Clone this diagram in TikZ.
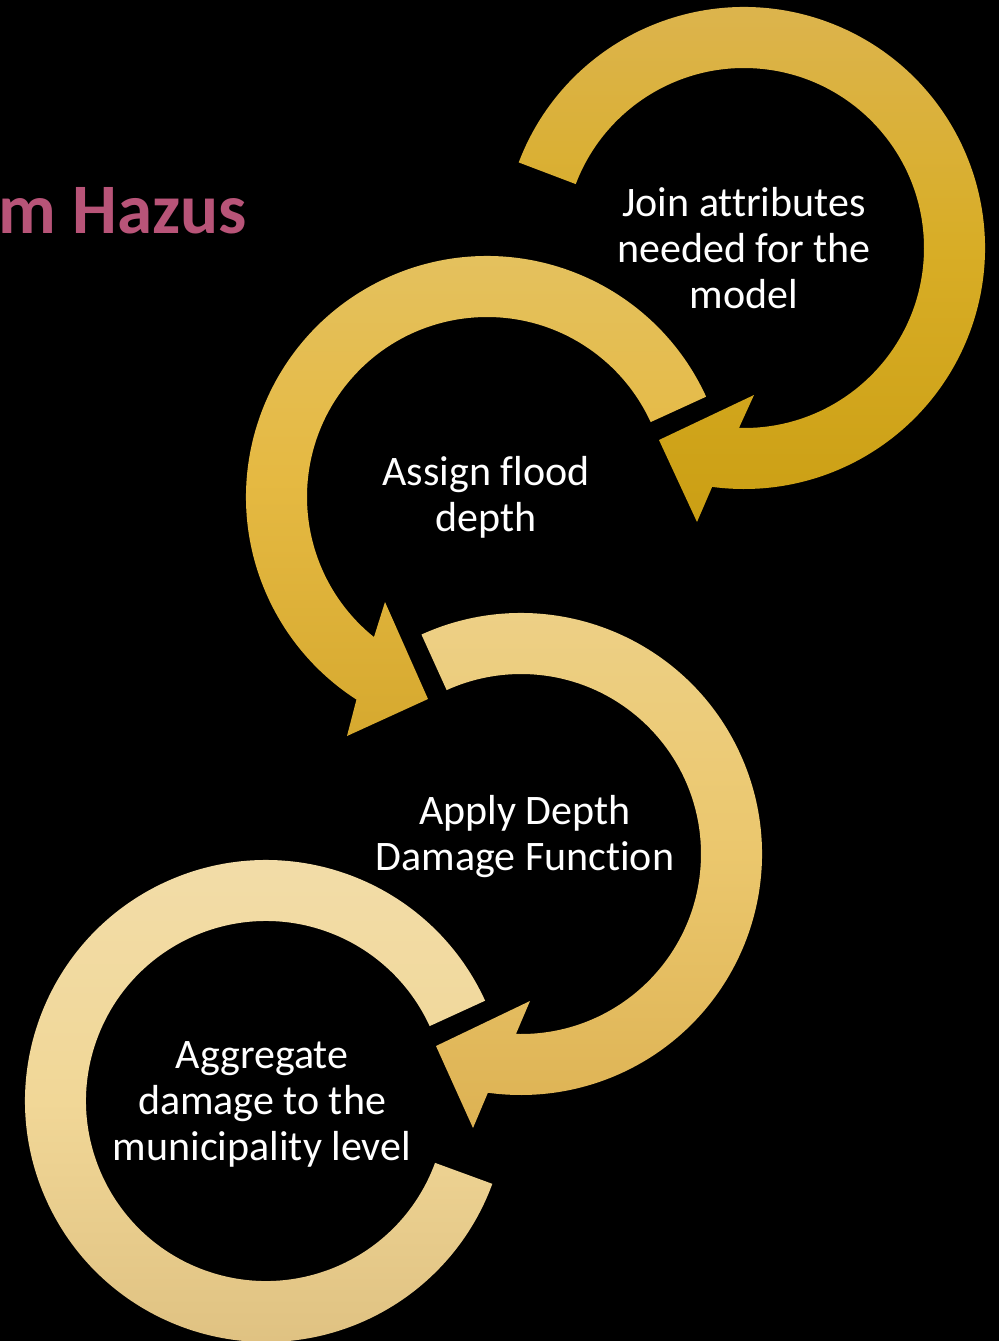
\documentclass[tikz,border=0pt]{standalone}
\usepackage{fontspec}
\setmainfont{Carlito}[Ligatures=CommonOff]
\begin{document}
\begin{tikzpicture}[x=1pt,y=1pt]
\definecolor{a1top}{RGB}{221,181,82}
\definecolor{a1mid}{RGB}{216,173,38}
\definecolor{a1bot}{RGB}{203,159,20}
\definecolor{a2top}{RGB}{228,194,98}
\definecolor{a2mid}{RGB}{229,185,66}
\definecolor{a2bot}{RGB}{214,169,47}
\definecolor{a3top}{RGB}{237,209,137}
\definecolor{a3mid}{RGB}{235,199,109}
\definecolor{a3bot}{RGB}{221,178,83}
\definecolor{a4top}{RGB}{242,221,170}
\definecolor{a4mid}{RGB}{241,215,151}
\definecolor{a4bot}{RGB}{221,191,127}
\definecolor{hazus}{RGB}{184,84,120}
\tikzset{steptext/.style={text=white,align=center,font=\fontsize{42}{46}\selectfont}}
\fill[black] (0,0) rectangle (999,-1341);
\useasboundingbox (0,0) rectangle (999,-1341);
\coordinate (c1) at (744,-248);
\coordinate (c2) at (487,-497);
\coordinate (c3) at (521,-854);
\coordinate (c4) at (266,-1101);
% first arrow, clockwise
\shade[top color=a1top,bottom color=a1bot,middle color=a1mid]
  ([shift={(159.2:241)}]c1) arc[start angle=159.2,end angle=-97.6,radius=241]
  -- (697,-522) -- (659,-440) -- (754,-395)
  -- ([shift={(-91.6:180)}]c1) arc[start angle=-91.6,end angle=159.2,radius=180] -- cycle;
% second arrow, counter-clockwise
\shade[top color=a2top,bottom color=a2bot,middle color=a2mid]
  ([shift={(24.6:241)}]c2) arc[start angle=24.6,end angle=237.2,radius=241]
  -- (347,-736) -- (428,-699) -- (385,-602)
  -- ([shift={(231.1:180)}]c2) arc[start angle=231.1,end angle=24.6,radius=180] -- cycle;
% third arrow, clockwise
\shade[top color=a3top,bottom color=a3bot,middle color=a3mid]
  ([shift={(114.4:241)}]c3) arc[start angle=114.4,end angle=-97.9,radius=241]
  -- (473,-1128) -- (436,-1046) -- (530,-1001)
  -- ([shift={(-91.6:180)}]c3) arc[start angle=-91.6,end angle=114.4,radius=180] -- cycle;
% last ring, no head
\shade[top color=a4top,bottom color=a4bot,middle color=a4mid]
  ([shift={(24.6:241)}]c4) arc[start angle=24.6,end angle=339.9,radius=241]
  -- ([shift={(339.9:180)}]c4) arc[start angle=339.9,end angle=24.6,radius=180] -- cycle;
\node[steptext] (join) at (744,-248) {Join attributes\\needed for the\\model};
\node[steptext] (assign) at (486,-497) {Assign flood\\depth};
\node[steptext] (apply) at (525,-837) {Apply Depth\\Damage Function};
\node[steptext] (aggregate) at (262,-1104) {Aggregate\\damage to the\\municipality level};
\node[anchor=base east,inner sep=0pt,text=hazus,font=\fontsize{71}{85}\selectfont\bfseries] (title) at (247,-233) {m Hazus};
\end{tikzpicture}
\end{document}
